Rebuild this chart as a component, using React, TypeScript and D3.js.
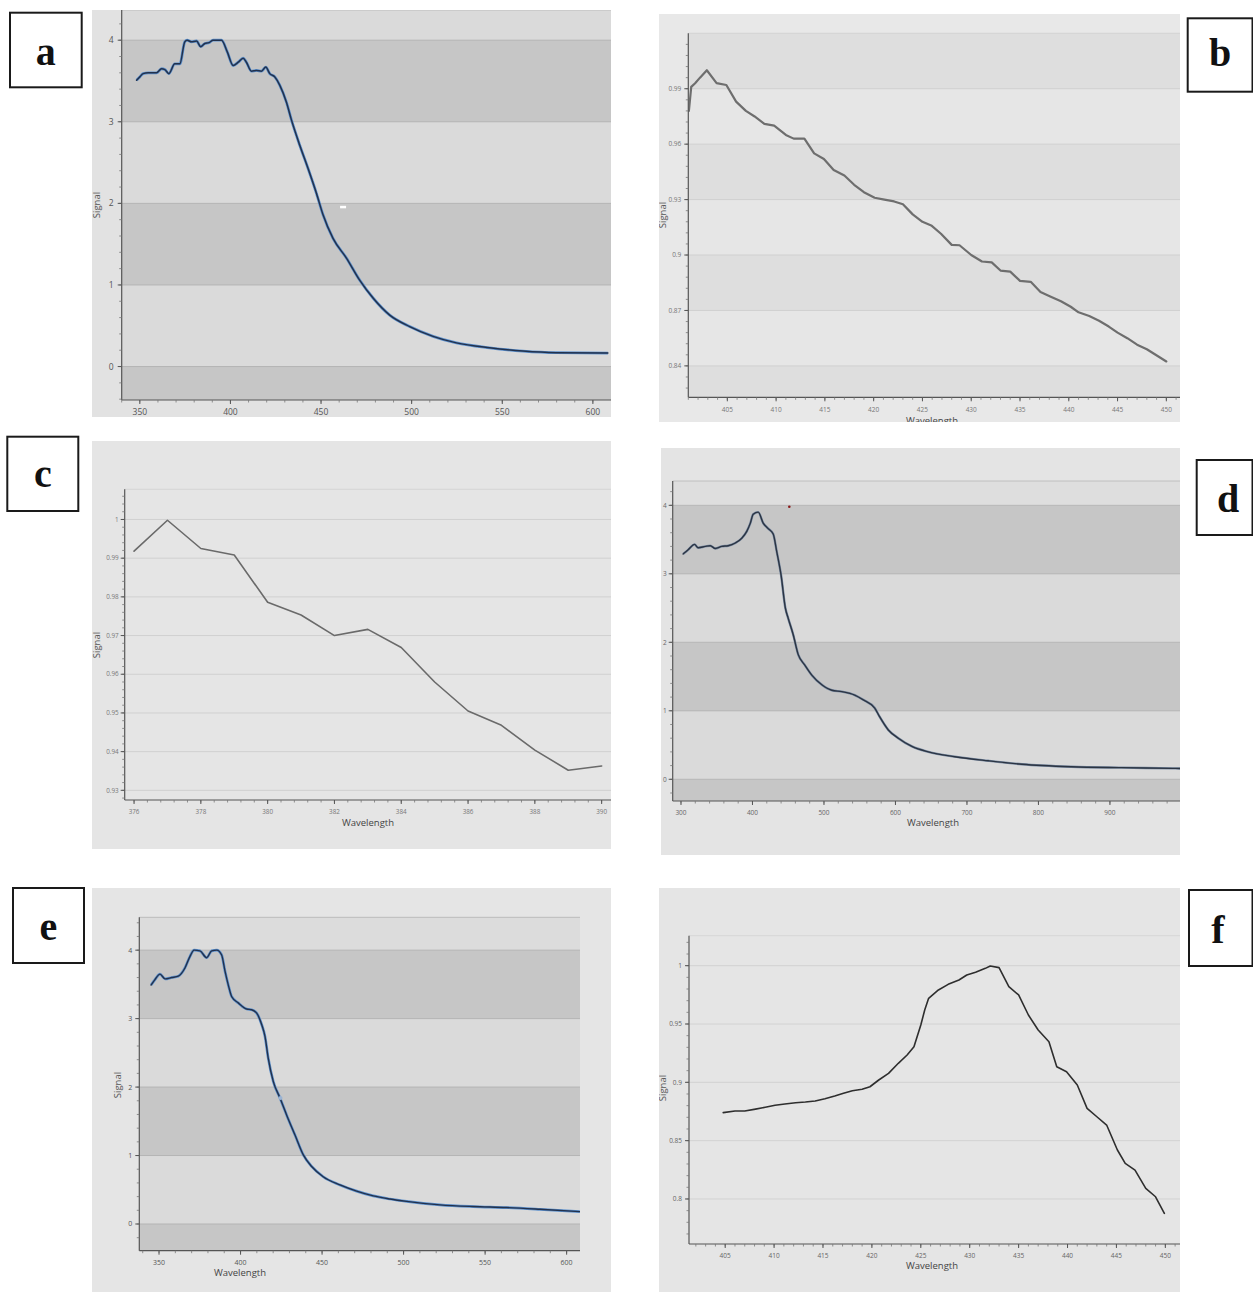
import React from "react";
import * as d3 from "d3";

// ---------- DATA ----------
const aWavelength = [348.2,350,351.8,354.6,359.2,362,363.8,366,369.3,372.1,374.8,376.1,378.5,381.3,383.6,385.9,388.2,390.4,395.1,398.2,401.5,404.3,407,408.8,411.6,414.4,417.1,419.5,421.7,424.5,427.2,430.9,433.7,438.3,442.8,447.5,451.1,456.6,464,471.3,478.7,487.9,498.9,511.8,524.7,543,561.4,579.8,608.3];
const aSignal = [3.51,3.55,3.59,3.6,3.6,3.65,3.64,3.59,3.71,3.71,3.98,4.0,3.98,3.99,3.92,3.96,3.97,4.0,4.0,3.86,3.69,3.73,3.78,3.73,3.62,3.63,3.62,3.67,3.59,3.55,3.45,3.24,3.02,2.71,2.43,2.12,1.86,1.57,1.33,1.06,0.84,0.63,0.49,0.37,0.29,0.23,0.19,0.17,0.165];

const bWavelength = [401.06,401.3,401.7,402.2,402.9,403.9,404.9,405.9,406.9,407.8,408.8,409.8,411,411.8,412.9,413.9,414.9,415.9,417,418,419,420.1,421.1,422.1,423,424,425,425.9,426.9,428,428.8,430,431.1,432.1,433,434,435,436.1,437.1,438.1,439.2,440.2,441,442.1,443.1,444.1,445,446,447,448,448.9,450];
const bSignal = [0.978,0.991,0.993,0.996,1.0,0.993,0.992,0.983,0.978,0.975,0.971,0.97,0.965,0.963,0.963,0.955,0.952,0.946,0.943,0.938,0.934,0.931,0.93,0.929,0.9275,0.922,0.918,0.916,0.9115,0.9055,0.9053,0.9,0.8965,0.896,0.8916,0.891,0.886,0.8855,0.88,0.8776,0.875,0.872,0.869,0.867,0.8644,0.8613,0.858,0.855,0.8515,0.849,0.846,0.8424];

const cWavelength = [376,377,378,379,380,381,382,383,384,385,386,387,388,389,390];
const cSignal = [0.9918,0.9998,0.9925,0.9908,0.9786,0.9753,0.97,0.9716,0.9669,0.958,0.9505,0.9468,0.9404,0.9352,0.9363];

const dWavelength = [303,310,319,324,334,341,348,357,366,376,385,392,397,401,408,415,422,429,434,440,446,450,457,464,473,483,497,511,525,543,555,571,578,590,604,623,646,683,730,777,846,916,988,998];
const dSignal = [3.29,3.35,3.43,3.38,3.4,3.41,3.37,3.4,3.41,3.45,3.52,3.62,3.74,3.87,3.9,3.74,3.66,3.58,3.32,2.98,2.5,2.35,2.11,1.82,1.67,1.52,1.38,1.3,1.28,1.23,1.16,1.04,0.91,0.72,0.6,0.48,0.4,0.33,0.27,0.22,0.184,0.17,0.16,0.158];

const eWavelength = [345.1,347.5,350.6,353.7,357.8,361.8,365.9,369,371.5,375.1,379.2,382.3,385.4,388.4,390.5,392.5,394.6,398.6,403.8,406.8,409.9,413,415,417,420.1,424.2,428.3,433.4,438.5,443.6,450.7,461,471.2,481.4,491.6,501.9,522.3,542.7,563.2,583.6,608.1];
const eSignal = [3.49,3.57,3.65,3.58,3.6,3.62,3.74,3.91,4.0,3.99,3.89,3.99,4.0,3.93,3.69,3.49,3.32,3.23,3.14,3.13,3.08,2.91,2.74,2.42,2.08,1.84,1.59,1.3,1.01,0.84,0.69,0.57,0.48,0.41,0.365,0.33,0.28,0.255,0.24,0.215,0.18];

const fWavelength = [404.8,406,407,408.1,409.1,410.1,411.1,412.2,413.2,414.2,415.2,416.2,417.1,418,419,419.8,420.7,421.7,422.7,423.6,424.3,425,425.4,425.8,426.8,427.8,428.9,429.7,430.6,431.6,432.1,433,434,435,436,437,438.1,438.9,439.9,441,442,443,444,445.1,445.9,446.9,448,449,449.9];
const fSignal = [0.874,0.8754,0.8754,0.877,0.8786,0.8803,0.8814,0.8825,0.8831,0.884,0.8859,0.8882,0.8906,0.8928,0.894,0.8962,0.902,0.9077,0.9163,0.9234,0.9305,0.9491,0.962,0.972,0.9792,0.984,0.9877,0.992,0.9943,0.9977,0.9997,0.9983,0.982,0.9749,0.9577,0.9449,0.9348,0.9134,0.9091,0.8977,0.8777,0.8705,0.8634,0.842,0.8305,0.8248,0.8091,0.8019,0.7877];

const aXTicks = [350,400,450,500,550,600];
const aYTicks = [0,1,2,3,4];
const bXTicks = [405,410,415,420,425,430,435,440,445,450];
const bYTicks = [0.84,0.87,0.9,0.93,0.96,0.99];
const cXTicks = [376,378,380,382,384,386,388,390];
const cYTicks = [0.93,0.94,0.95,0.96,0.97,0.98,0.99,1];
const dXTicks = [300,400,500,600,700,800,900];
const dYTicks = [0,1,2,3,4];
const eXTicks = [350,400,450,500,550,600];
const eYTicks = [0,1,2,3,4];
const fXTicks = [405,410,415,420,425,430,435,440,445,450];
const fYTicks = [0.8,0.85,0.9,0.95,1];

const panelLetters = ["a","b","c","d","e","f"];

// ---------- LAYOUT ----------
type Band = { from: number; to: number; fill: string };
type Cfg = {
  id: string;
  outer: [number, number, number, number];
  plot: [number, number, number, number];
  xDom: [number, number];
  yDom: [number, number];
  xs: number[]; ys: number[];
  xTicks: number[]; yTicks: number[];
  xMinor: number; yMinor: number;
  bands: Band[];
  bg: string; outerBg: string; grid: string;
  lineUnder?: string; lineUnderW?: number;
  line: string; lineW: number;
  tickFont: number; tickColor: string; tickGap: number;
  signal?: [number, number];
  wave?: [number, number];
  curve: any;
};

const bandsIntegers = (dark: string, light: string, top: string, yMin: number, yMax: number): Band[] => [
  { from: yMin, to: 0, fill: dark },
  { from: 0, to: 1, fill: light },
  { from: 1, to: 2, fill: dark },
  { from: 2, to: 3, fill: light },
  { from: 3, to: 4, fill: dark },
  { from: 4, to: yMax, fill: top },
];

const panels: Cfg[] = [
  {
    id: "a", outer: [92, 10, 611, 417], plot: [121.7, 10, 611, 400],
    xDom: [340, 610], yDom: [-0.41, 4.37], xs: aWavelength, ys: aSignal,
    xTicks: aXTicks, yTicks: aYTicks, xMinor: 10, yMinor: 0.2,
    bands: bandsIntegers("#c6c6c6", "#dadada", "#dadada", -0.41, 4.37),
    bg: "#dadada", outerBg: "#e2e2e2", grid: "#b4b4b4",
    lineUnder: "#5b8fcc", lineUnderW: 2.8, line: "#22314c", lineW: 1.5,
    tickFont: 8.5, tickColor: "#555", tickGap: 8, signal: [97, 205], curve: d3.curveMonotoneX,
  },
  {
    id: "b", outer: [659, 14, 1180, 422], plot: [688.3, 33.3, 1180, 397.3],
    xDom: [401, 451.4], yDom: [0.823, 1.02], xs: bWavelength, ys: bSignal,
    xTicks: bXTicks, yTicks: bYTicks, xMinor: 1, yMinor: 0.006,
    bands: [
      { from: 0.823, to: 0.84, fill: "#dedede" },
      { from: 0.84, to: 0.87, fill: "#e6e6e6" },
      { from: 0.87, to: 0.9, fill: "#dedede" },
      { from: 0.9, to: 0.93, fill: "#e6e6e6" },
      { from: 0.93, to: 0.96, fill: "#dedede" },
      { from: 0.96, to: 0.99, fill: "#e6e6e6" },
      { from: 0.99, to: 1.02, fill: "#dedede" },
    ],
    bg: "#e6e6e6", outerBg: "#e8e8e8", grid: "#d0d0d0",
    line: "#6e6e6e", lineW: 2.2, tickFont: 6.5, tickColor: "#777", tickGap: 7,
    signal: [663, 215], wave: [932, 424], curve: d3.curveLinear,
  },
  {
    id: "c", outer: [92, 441, 611, 849], plot: [124.7, 489.3, 611, 800],
    xDom: [375.72, 390.28], yDom: [0.9275, 1.0078], xs: cWavelength, ys: cSignal,
    xTicks: cXTicks, yTicks: cYTicks, xMinor: 0.4, yMinor: 0.002,
    bands: [], bg: "#e5e5e5", outerBg: "#e5e5e5", grid: "#d0d0d0",
    line: "#6a6a6a", lineW: 1.6, tickFont: 6.3, tickColor: "#777", tickGap: 6,
    signal: [97, 645], wave: [368, 826], curve: d3.curveLinear,
  },
  {
    id: "d", outer: [661, 448, 1180, 855], plot: [672.7, 481, 1180, 801],
    xDom: [288.4, 998], yDom: [-0.317, 4.355], xs: dWavelength, ys: dSignal,
    xTicks: dXTicks, yTicks: dYTicks, xMinor: 20, yMinor: 0.2,
    bands: bandsIntegers("#c6c6c6", "#dadada", "#dedede", -0.317, 4.355),
    bg: "#dadada", outerBg: "#e4e4e4", grid: "#b6b6b6",
    lineUnder: "#7b8ca4", lineUnderW: 2.4, line: "#2b3442", lineW: 1.4,
    tickFont: 6.5, tickColor: "#666", tickGap: 6, wave: [933, 826], curve: d3.curveMonotoneX,
  },
  {
    id: "e", outer: [92, 888, 611, 1292], plot: [139.3, 917.3, 580, 1250.7],
    xDom: [337.9, 608.2], yDom: [-0.39, 4.48], xs: eWavelength, ys: eSignal,
    xTicks: eXTicks, yTicks: eYTicks, xMinor: 10, yMinor: 0.2,
    bands: bandsIntegers("#c6c6c6", "#dadada", "#dcdcdc", -0.39, 4.48),
    bg: "#dadada", outerBg: "#e5e5e5", grid: "#b4b4b4",
    lineUnder: "#5b8fcc", lineUnderW: 2.7, line: "#22314c", lineW: 1.4,
    tickFont: 7, tickColor: "#555", tickGap: 7, signal: [118, 1085], wave: [240, 1276], curve: d3.curveMonotoneX,
  },
  {
    id: "f", outer: [659, 888, 1180, 1292], plot: [689, 935.7, 1180, 1244],
    xDom: [401.3, 451.5], yDom: [0.7614, 1.0257], xs: fWavelength, ys: fSignal,
    xTicks: fXTicks, yTicks: fYTicks, xMinor: 1, yMinor: 0.01,
    bands: [], bg: "#e5e5e5", outerBg: "#e5e5e5", grid: "#d2d2d2",
    line: "#2e2e2e", lineW: 1.6, tickFont: 6.5, tickColor: "#666", tickGap: 7,
    signal: [663, 1088], wave: [932, 1269], curve: d3.curveLinear,
  },
];

const letterBoxes: { x0: number; y0: number; x1: number; y1: number; tx: number; ty: number }[] = [
  { x0: 10, y0: 12.7, x1: 81.7, y1: 87.3, tx: 45.8, ty: 65 },
  { x0: 1187.7, y0: 18.3, x1: 1252.5, y1: 91.7, tx: 1220, ty: 66 },
  { x0: 7.3, y0: 436.7, x1: 78.3, y1: 511, tx: 42.8, ty: 487 },
  { x0: 1196.7, y0: 460, x1: 1252.5, y1: 535, tx: 1228, ty: 512 },
  { x0: 13, y0: 888, x1: 84, y1: 963, tx: 48.5, ty: 940 },
  { x0: 1189, y0: 890, x1: 1252.5, y1: 966, tx: 1218, ty: 943 },
];

const fmt = (v: number) => String(+v.toFixed(3));

function Panel({ c }: { c: Cfg }) {
  const [ox0, oy0, ox1, oy1] = c.outer;
  const [px0, py0, px1, py1] = c.plot;
  const x = d3.scaleLinear().domain(c.xDom).range([px0, px1]);
  const y = d3.scaleLinear().domain(c.yDom).range([py1, py0]);
  const pts = c.xs.map((w, i) => [w, c.ys[i]] as [number, number]);
  const line = d3.line<[number, number]>().x(d => x(d[0])).y(d => y(d[1])).curve(c.curve);
  const path = line(pts) || "";
  const xMin = d3.range(Math.ceil(c.xDom[0] / c.xMinor) * c.xMinor, c.xDom[1], c.xMinor);
  const yMin = d3.range(Math.ceil(c.yDom[0] / c.yMinor) * c.yMinor, c.yDom[1], c.yMinor);
  const clipO = `clipO-${c.id}`;
  const clipP = `clipP-${c.id}`;
  const font = "'Open Sans', 'Noto Sans', sans-serif";
  return (
    <g>
      <defs>
        <clipPath id={clipO}><rect x={ox0} y={oy0} width={ox1 - ox0} height={oy1 - oy0} /></clipPath>
        <clipPath id={clipP}><rect x={px0} y={py0} width={px1 - px0} height={py1 - py0} /></clipPath>
      </defs>
      <g clipPath={`url(#${clipO})`}>
        <rect x={ox0} y={oy0} width={ox1 - ox0} height={oy1 - oy0} fill={c.outerBg} />
        <rect x={px0} y={py0} width={px1 - px0} height={py1 - py0} fill={c.bg} />
        {c.bands.map((b, i) => (
          <rect key={i} x={px0} width={px1 - px0} y={y(b.to)} height={y(b.from) - y(b.to)} fill={b.fill} />
        ))}
        {c.yTicks.map(t => (
          <line key={"g" + t} x1={px0} x2={px1} y1={y(t)} y2={y(t)} stroke={c.grid} strokeWidth={1} />
        ))}
        <line x1={px0} x2={px1} y1={py0} y2={py0} stroke={c.grid} strokeWidth={0.8} />
        <g clipPath={`url(#${clipP})`}>
          {c.lineUnder && <path d={path} fill="none" stroke={c.lineUnder} strokeWidth={c.lineUnderW} strokeLinejoin="round" />}
          <path d={path} fill="none" stroke={c.line} strokeWidth={c.lineW} strokeLinejoin="round" strokeLinecap="round" />
        </g>
        <line x1={px0} x2={px0} y1={py0} y2={py1} stroke="#555" strokeWidth={1.2} />
        <line x1={px0} x2={px1} y1={py1} y2={py1} stroke="#555" strokeWidth={1.2} />
        {yMin.map((t, i) => (
          <line key={"ym" + i} x1={px0 - 2.5} x2={px0} y1={y(t)} y2={y(t)} stroke="#777" strokeWidth={0.8} />
        ))}
        {xMin.map((t, i) => (
          <line key={"xm" + i} x1={x(t)} x2={x(t)} y1={py1} y2={py1 + 2.5} stroke="#777" strokeWidth={0.8} />
        ))}
        {c.yTicks.map(t => (
          <g key={"yt" + t}>
            <line x1={px0 - 4} x2={px0} y1={y(t)} y2={y(t)} stroke="#555" strokeWidth={1} />
            <text x={px0 - c.tickGap} y={y(t)} dy="0.35em" textAnchor="end" fontSize={c.tickFont} fill={c.tickColor} fontFamily={font}>{fmt(t)}</text>
          </g>
        ))}
        {c.xTicks.map(t => (
          <g key={"xt" + t}>
            <line x1={x(t)} x2={x(t)} y1={py1} y2={py1 + 4} stroke="#555" strokeWidth={1} />
            <text x={x(t)} y={py1 + 12} dy="0.35em" textAnchor="middle" fontSize={c.tickFont} fill={c.tickColor} fontFamily={font}>{fmt(t)}</text>
          </g>
        ))}
        {c.signal && (
          <text transform={`translate(${c.signal[0]},${c.signal[1]}) rotate(-90)`} textAnchor="middle" dy="0.35em" fontSize={9.5} fill="#555" fontFamily={font}>Signal</text>
        )}
        {c.wave && (
          <text x={c.wave[0]} y={c.wave[1]} textAnchor="middle" fontSize={9.5} fill="#444" fontFamily={font}>Wavelength</text>
        )}
        {c.id === "a" && <rect x={x(460.5)} y={y(1.97)} width={6} height={2.5} fill="#ffffff" />}
        {c.id === "d" && <circle cx={x(451.5)} cy={y(3.98)} r={1.3} fill="#8a1a1a" />}
        {c.id === "e" && <circle cx={x(424.5)} cy={y(1.84)} r={2} fill="#9bb4d4" />}
      </g>
    </g>
  );
}

export default function App() {
  return (
    <svg width={1253} height={1292} style={{ position: "absolute", left: 0, top: 0, background: "#fff" }}>
      <rect x={0} y={0} width={1253} height={1292} fill="#ffffff" />
      {panels.map(p => <Panel key={p.id} c={p} />)}
      {letterBoxes.map((b, i) => (
        <g key={i}>
          <rect x={b.x0} y={b.y0} width={b.x1 - b.x0} height={b.y1 - b.y0} fill="#ffffff" stroke="#1a1a1a" strokeWidth={2} />
          <text x={b.tx} y={b.ty} textAnchor="middle" fontSize={40} fontWeight="bold" fontFamily="'Liberation Serif', 'Times New Roman', serif" fill="#111">{panelLetters[i]}</text>
        </g>
      ))}
    </svg>
  );
}
